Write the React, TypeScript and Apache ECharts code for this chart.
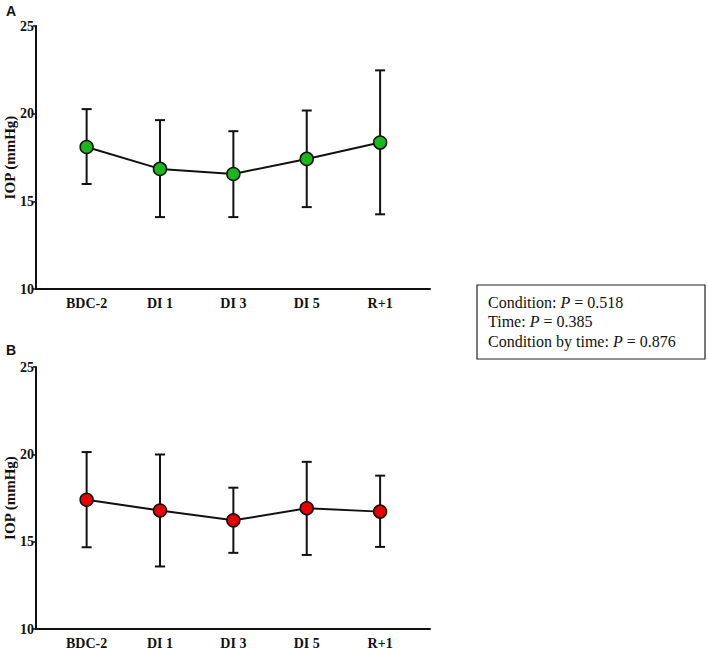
import React, { useEffect, useRef } from "react";
import * as echarts from "echarts";

const categories = ["BDC-2", "DI 1", "DI 3", "DI 5", "R+1"];
const yTicks = [10, 15, 20, 25];

const meanA = [18.1, 16.85, 16.56, 17.42, 18.35];
const upperA = [20.26, 19.63, 19.0, 20.18, 22.47];
const lowerA = [15.99, 14.1, 14.1, 14.67, 14.26];

const meanB = [17.4, 16.78, 16.22, 16.91, 16.72];
const upperB = [20.13, 19.99, 18.09, 19.57, 18.78];
const lowerB = [14.68, 13.58, 14.36, 14.24, 14.7];

const statLines = [
  ["Condition: ", "P", " = 0.518"],
  ["Time: ", "P", " = 0.385"],
  ["Condition by time: ", "P", " = 0.876"],
];

const serif = "'Liberation Serif', 'Times New Roman', serif";
const sans = "'Liberation Sans', Arial, sans-serif";

function errorSeries(idx: number, lower: number[], upper: number[]) {
  return {
    type: "custom",
    xAxisIndex: idx,
    yAxisIndex: idx,
    z: 2,
    encode: { x: 0, y: [1, 2] },
    data: categories.map((_, i) => [i, lower[i], upper[i]]),
    renderItem: (params: any, api: any) => {
      const x = api.value(0);
      const lo = api.coord([x, api.value(1)]);
      const hi = api.coord([x, api.value(2)]);
      const w = 5;
      const st = { stroke: "#111", lineWidth: 2 };
      return {
        type: "group",
        children: [
          { type: "line", shape: { x1: lo[0], y1: lo[1], x2: hi[0], y2: hi[1] }, style: st },
          { type: "line", shape: { x1: lo[0] - w, y1: lo[1], x2: lo[0] + w, y2: lo[1] }, style: st },
          { type: "line", shape: { x1: hi[0] - w, y1: hi[1], x2: hi[0] + w, y2: hi[1] }, style: st },
        ],
      };
    },
  };
}

function meanSeries(idx: number, mean: number[], color: string) {
  return {
    type: "line",
    xAxisIndex: idx,
    yAxisIndex: idx,
    z: 3,
    data: mean.map((m, i) => [i, m]),
    symbol: "circle",
    symbolSize: 13,
    lineStyle: { color: "#111", width: 2 },
    itemStyle: { color, borderColor: "#111", borderWidth: 1.5 },
  };
}

function xAxis(idx: number) {
  return {
    type: "value",
    gridIndex: idx,
    min: -0.69,
    max: 4.68,
    axisLine: { show: true, onZero: false, lineStyle: { color: "#111", width: 2 } },
    axisTick: { show: false },
    splitLine: { show: false },
    axisLabel: {
      customValues: [0, 1, 2, 3, 4],
      formatter: (v: number) => categories[Math.round(v)] ?? "",
      fontFamily: serif,
      fontWeight: "bold",
      fontSize: 14,
      color: "#111",
      margin: 7,
    },
  };
}

function yAxis(idx: number) {
  return {
    type: "value",
    gridIndex: idx,
    min: yTicks[0],
    max: yTicks[yTicks.length - 1],
    interval: 5,
    name: "IOP (mmHg)",
    nameLocation: "middle",
    nameGap: 19,
    nameMoveOverlap: false,
    nameTextStyle: { fontFamily: serif, fontWeight: "bold", fontSize: 15, color: "#111" },
    axisLine: { show: true, onZero: false, lineStyle: { color: "#111", width: 2 } },
    axisTick: { show: true, length: 3, lineStyle: { color: "#111", width: 1.5 } },
    splitLine: { show: false },
    axisLabel: {
      fontFamily: serif,
      fontWeight: "bold",
      fontSize: 14,
      color: "#111",
      margin: 2,
    },
  };
}

export default function App() {
  const ref = useRef<HTMLDivElement>(null);
  useEffect(() => {
    if (!ref.current) return;
    const chart = echarts.init(ref.current, undefined, { renderer: "svg" });
    chart.setOption({
      animation: false,
      backgroundColor: "#fff",
      grid: [
        { left: 36, right: 278, top: 26, bottom: 360, outerBoundsMode: "none", containLabel: false },
        { left: 36, right: 278, top: 367, bottom: 20, outerBoundsMode: "none", containLabel: false },
      ],
      xAxis: [xAxis(0), xAxis(1)],
      yAxis: [yAxis(0), yAxis(1)],
      series: [
        errorSeries(0, lowerA, upperA),
        meanSeries(0, meanA, "#1cb51c"),
        errorSeries(1, lowerB, upperB),
        meanSeries(1, meanB, "#e60000"),
      ],
      graphic: [
        {
          type: "text",
          left: 6,
          top: 4,
          style: { text: "A", font: `bold 14px ${sans}`, fill: "#111" },
        },
        {
          type: "text",
          left: 6,
          top: 343,
          style: { text: "B", font: `bold 14px ${sans}`, fill: "#111" },
        },
        {
          type: "rect",
          shape: { x: 477, y: 285, width: 228, height: 74 },
          style: { fill: "#fff", stroke: "#222", lineWidth: 1.2 },
        },
        ...statLines.map((l, i) => ({
          type: "text",
          x: 488,
          y: 302 + i * 19.5,
          style: {
            text: `${l[0]}{i|${l[1]}}${l[2]}`,
            fontFamily: serif,
            fontSize: 16,
            fill: "#111",
            verticalAlign: "middle",
            rich: { i: { fontStyle: "italic", fontFamily: serif, fontSize: 16, fill: "#111" } },
          },
        })),
      ],
    });
    return () => chart.dispose();
  }, []);
  return (
    <div
      ref={ref}
      style={{ position: "fixed", left: 0, top: 0, width: 708, height: 649 }}
    />
  );
}
